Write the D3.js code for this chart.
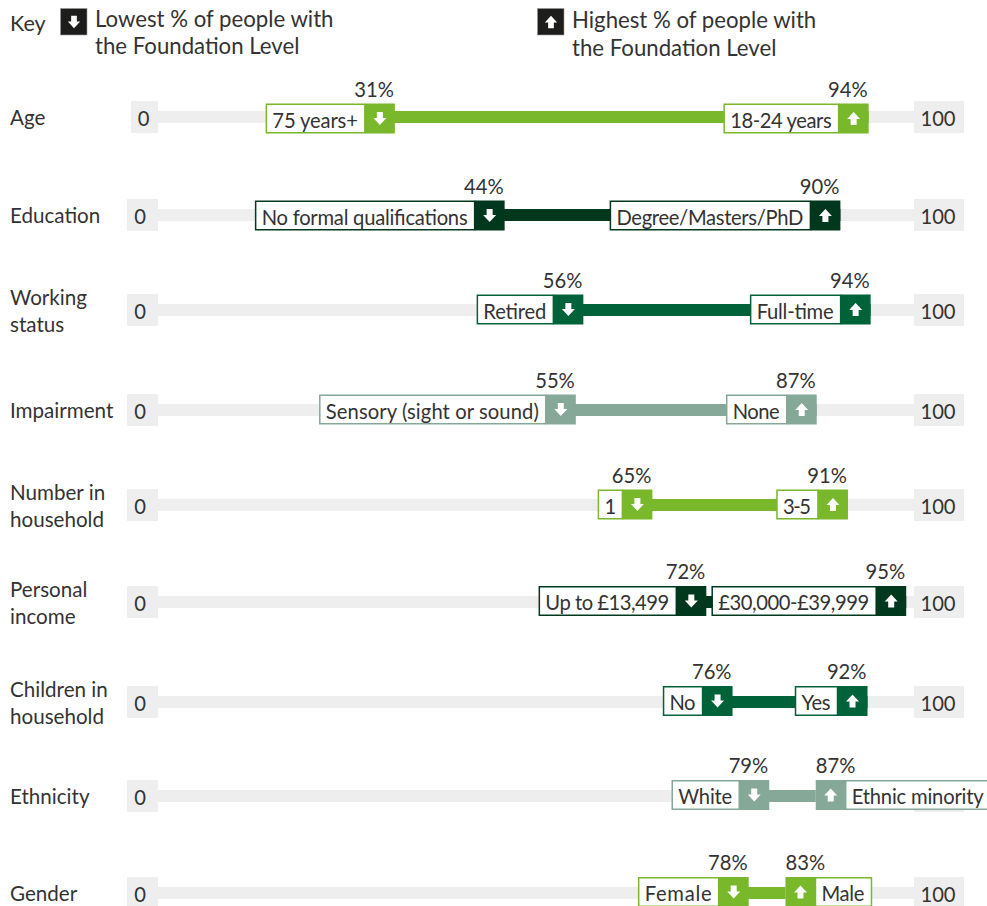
<!DOCTYPE html>
<html>
<head>
<meta charset="utf-8">
<script src="https://cdn.jsdelivr.net/npm/d3@7/dist/d3.min.js"></script>
<style>
  html, body { margin: 0; padding: 0; background: #fff; overflow: hidden; }
  text { font-family: Lato, sans-serif; font-size: 20.2px; fill: #333; }
  text.cat { font-size: 20.6px; }
  text.key { font-size: 22.2px; }
</style>
</head>
<body>
<svg id="chart" width="987" height="906"></svg>
<script>
// Foundation Level reach by demographic group
const categories = [
  ["Age"], ["Education"], ["Working", "status"], ["Impairment"], ["Number in", "household"],
  ["Personal", "income"], ["Children in", "household"], ["Ethnicity"], ["Gender"]
];
const lowGroups = ["75 years+", "No formal qualifications", "Retired", "Sensory (sight or sound)", "1",
  "Up to £13,499", "No", "White", "Female"];
const lowValues = [31, 44, 56, 55, 65, 72, 76, 79, 78];
const highGroups = ["18-24 years", "Degree/Masters/PhD", "Full-time", "None", "3-5",
  "£30,000-£39,999", "Yes", "Ethnic minority", "Male"];
const highValues = [94, 90, 94, 87, 91, 95, 92, 87, 83];
const axisEnds = [0, 100];
const keyEntries = [
  ["Lowest % of people with", "the Foundation Level"],
  ["Highest % of people with", "the Foundation Level"]
];

// Layout: row centres, tag offsets and widths, and the sideways shift that keeps tags clear of each other
const rowCentres = [117, 215, 310, 410, 505, 602, 702, 796, 893];
const tagTops = [-13.5, -14.5, -15.5, -15.5, -15.5, -16, -16, -16, -16];
const lowShift = [2.5, 14, 2, 2, 3, 4, 0, 14, 1];
const highShift = [0, 2, 2, 1, 2, 30, 14, 0, 0];
const lowBoxWidths = [98.5, 219, 76, 226, 24, 137, 39, 67, 80];
const highBoxWidths = [114.5, 200, 90, 60, 41, 164, 42, 145, 56];
const iconFirstRows = new Set(["Ethnic minority", "Male"]);
const coveredEndLabels = new Set(["Ethnicity"]);
const palette = ["#78b82a", "#00381e", "#006239", "#86a899"];

const ICON = 30, TAG_H = 30, PAD_L = 6, PAD_R = 7, TRACK_H = 12, BOX_H = 32;

const svg = d3.select("#chart");
const x = d3.scaleLinear().domain(axisEnds).range([158, 914]);
const colour = d3.scaleOrdinal().domain(d3.range(4)).range(palette);
const arrowDown = "M-3,-6.5H3V-0.5H6.5L0,6.5L-6.5,-0.5H-3Z";
const arrowUp = "M-3,6.5H3V0.5H6.5L0,-6.5L-6.5,0.5H-3Z";

// Key
svg.append("text").attr("class", "cat").style("font-size", "21.5px").attr("x", 10).attr("y", 31).text("Key");
[[60.5, 95, arrowDown, 27, 54], [537.5, 572, arrowUp, 27.5, 56]].forEach(([bx, tx, arrow, y1, y2], i) => {
  svg.append("rect").attr("x", bx).attr("y", 8.5).attr("width", 26.5).attr("height", 26.5)
    .attr("fill", "#1d1d1b").attr("stroke", "#999").attr("stroke-width", 0.6);
  svg.append("path").attr("d", arrow)
    .attr("transform", `translate(${bx + 13.5},${22}) scale(0.95)`).attr("fill", "#fff");
  svg.append("text").attr("class", "key").attr("x", tx).attr("y", y1).text(keyEntries[i][0]);
  svg.append("text").attr("class", "key").attr("x", tx).attr("y", y2).text(keyEntries[i][1]);
});

const rows = svg.selectAll("g.row").data(categories).join("g").attr("class", "row")
  .attr("transform", (d, i) => `translate(0,${rowCentres[i]})`);

// Category labels, one or two lines
rows.each(function(lines) {
  const g = d3.select(this);
  const baseline = lines.length === 1 ? 8 : -5.5;
  lines.forEach((line, j) => g.append("text").attr("class", "cat").attr("x", 10).attr("y", baseline + j * 27).text(line));
});

// Grey track with its 0 and 100 end boxes
rows.append("rect").attr("x", x(0)).attr("width", x(100) - x(0))
  .attr("y", -TRACK_H / 2).attr("height", TRACK_H).attr("fill", "#eeeeee");
rows.append("rect").attr("x", (d, i) => i === 0 ? 131 : 127)
  .attr("width", (d, i) => x(0) - (i === 0 ? 131 : 127))
  .attr("y", -BOX_H / 2).attr("height", BOX_H).attr("fill", "#eeeeee");
rows.append("rect").attr("x", x(100)).attr("width", 50)
  .attr("y", -BOX_H / 2).attr("height", BOX_H).attr("fill", "#eeeeee");
rows.append("text").attr("x", (d, i) => i === 0 ? 143.5 : 140).attr("y", 8.5)
  .attr("text-anchor", "middle").text(axisEnds[0]);
rows.filter(d => !coveredEndLabels.has(d[0]))
  .append("text").attr("x", 938).attr("y", 8.5).attr("text-anchor", "middle").text(axisEnds[1]);

// Range bars between the lowest and highest group
rows.append("rect")
  .attr("x", (d, i) => x(lowValues[i]) + lowShift[i] - 1)
  .attr("width", (d, i) => x(highValues[i]) + highShift[i] - x(lowValues[i]) - lowShift[i] + 1)
  .attr("y", -TRACK_H / 2).attr("height", TRACK_H)
  .attr("fill", (d, i) => colour(i % 4));

function drawTag(g, label, value, anchorX, top, boxW, arrow, fillColour, iconFirst) {
  const tag = g.append("g");
  const iconX = iconFirst ? anchorX : anchorX - ICON;
  const boxX = iconFirst ? anchorX + ICON : iconX - boxW;
  tag.append("rect").attr("x", boxX).attr("y", top + 0.75)
    .attr("width", boxW).attr("height", TAG_H - 1.5)
    .attr("fill", "#fff").attr("stroke", fillColour).attr("stroke-width", 1.5);
  tag.append("rect").attr("x", iconX).attr("y", top)
    .attr("width", ICON).attr("height", TAG_H).attr("fill", fillColour);
  tag.append("path").attr("d", arrow)
    .attr("transform", `translate(${iconX + 15},${top + 15})`).attr("fill", "#fff");
  tag.append("text").attr("x", boxX + PAD_L).attr("y", top + 24)
    .attr("textLength", boxW - PAD_L - PAD_R).attr("lengthAdjust", "spacing").text(label);
  tag.append("text")
    .attr("x", iconFirst ? anchorX : anchorX - 1)
    .attr("y", top - 7)
    .attr("text-anchor", iconFirst ? "start" : "end")
    .text(value + "%");
}

rows.each(function(d, i) {
  const g = d3.select(this);
  const c = colour(i % 4);
  drawTag(g, lowGroups[i], lowValues[i], x(lowValues[i]) + lowShift[i], tagTops[i], lowBoxWidths[i], arrowDown, c, false);
  drawTag(g, highGroups[i], highValues[i], x(highValues[i]) + highShift[i], tagTops[i], highBoxWidths[i], arrowUp, c, iconFirstRows.has(highGroups[i]));
});
</script>
</body>
</html>
